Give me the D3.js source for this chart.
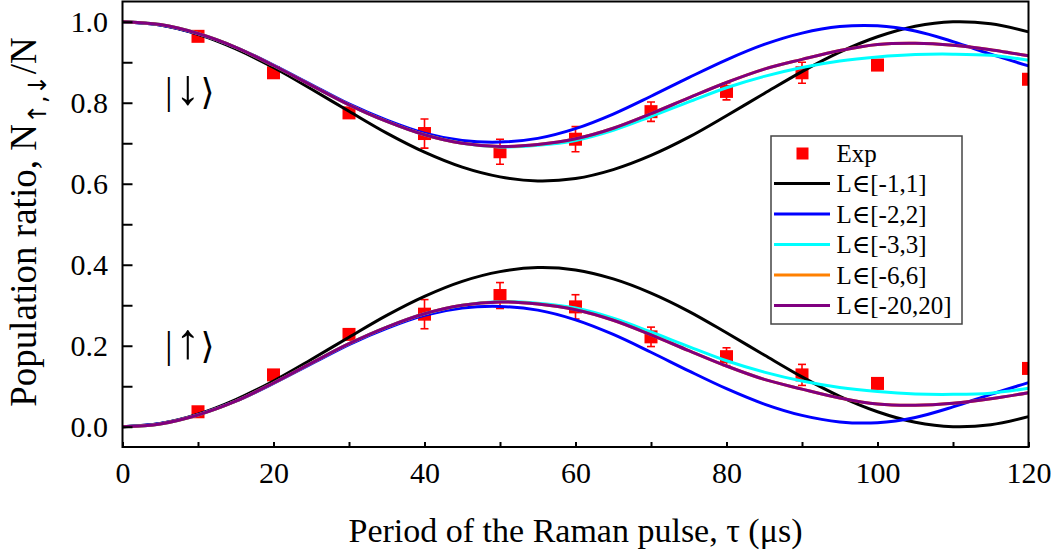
<!DOCTYPE html>
<html>
<head>
<meta charset="utf-8">
<script src="https://cdn.jsdelivr.net/npm/d3@7"></script>
<style>
  html, body { margin: 0; padding: 0; background: #fff; }
  svg text { font-family: "Liberation Serif", "DejaVu Serif", serif; fill: #000; }
</style>
</head>
<body>
<script>
// ---------- data ----------
const tau = [0,5,10,15,20,25,30,35,40,45,50,55,60,65,70,75,80,85,90,95,100,105,110,115,120];

// spin-down population (upper curves)
const downL1  = [1.000,0.992,0.969,0.933,0.887,0.834,0.779,0.725,0.678,0.641,0.617,0.607,0.613,0.635,0.670,0.715,0.768,0.823,0.877,0.925,0.963,0.989,1.000,0.995,0.975];
const downL2  = [1.000,0.992,0.970,0.937,0.893,0.845,0.797,0.757,0.725,0.707,0.703,0.712,0.736,0.772,0.816,0.862,0.906,0.944,0.972,0.988,0.990,0.977,0.951,0.920,0.891];
const downL3  = [1.000,0.993,0.971,0.937,0.892,0.843,0.795,0.754,0.721,0.700,0.691,0.695,0.707,0.732,0.766,0.802,0.837,0.865,0.887,0.903,0.913,0.919,0.920,0.917,0.905];
const downL6  = [1.000,0.993,0.971,0.937,0.892,0.843,0.795,0.754,0.721,0.700,0.692,0.697,0.711,0.737,0.773,0.812,0.850,0.883,0.907,0.929,0.944,0.947,0.942,0.931,0.916];
const downL20 = [1.000,0.993,0.971,0.937,0.892,0.843,0.795,0.754,0.721,0.700,0.692,0.697,0.711,0.737,0.773,0.812,0.850,0.883,0.907,0.929,0.944,0.947,0.942,0.931,0.916];

// spin-up population (lower curves)
const upL1  = [0.000,0.008,0.031,0.067,0.113,0.166,0.221,0.275,0.322,0.359,0.383,0.393,0.387,0.365,0.330,0.285,0.232,0.177,0.123,0.075,0.037,0.011,0.000,0.005,0.025];
const upL2  = [0.000,0.008,0.030,0.063,0.107,0.155,0.203,0.243,0.275,0.293,0.297,0.288,0.264,0.228,0.184,0.138,0.094,0.056,0.028,0.012,0.010,0.023,0.049,0.080,0.109];
const upL3  = [0.000,0.007,0.029,0.063,0.108,0.157,0.205,0.246,0.279,0.300,0.309,0.305,0.293,0.268,0.234,0.198,0.163,0.135,0.113,0.097,0.087,0.081,0.080,0.083,0.095];
const upL6  = [0.000,0.007,0.029,0.063,0.108,0.157,0.205,0.246,0.279,0.300,0.308,0.303,0.289,0.263,0.227,0.188,0.150,0.117,0.093,0.071,0.056,0.053,0.058,0.069,0.084];
const upL20 = [0.000,0.007,0.029,0.063,0.108,0.157,0.205,0.246,0.279,0.300,0.308,0.303,0.289,0.263,0.227,0.188,0.150,0.117,0.093,0.071,0.056,0.053,0.058,0.069,0.084];

// experiment
const expTau     = [10,20,30,40,50,60,70,80,90,100,120];
const expDown    = [0.964,0.874,0.775,0.724,0.679,0.710,0.778,0.828,0.874,0.893,0.858];
const expDownErr = [0,0,0,0.036,0.031,0.031,0.024,0.021,0.026,0,0];
const expUp      = [0.037,0.128,0.228,0.278,0.324,0.296,0.222,0.173,0.128,0.107,0.144];
const expUpErr   = [0,0,0,0.036,0.032,0.030,0.024,0.022,0.026,0,0];

const legendLabels = ["L\u2208[-1,1]","L\u2208[-2,2]","L\u2208[-3,3]","L\u2208[-6,6]","L\u2208[-20,20]"];
const seriesColors = ["#000000","#0000ff","#00ffff","#ff8000","#800080"];

const xTicks = [0,10,20,30,40,50,60,70,80,90,100,110,120];
const xTickLabels = ["0","","20","","40","","60","","80","","100","","120"];
const yTicks = [0,0.1,0.2,0.3,0.4,0.5,0.6,0.7,0.8,0.9,1.0];
const yTickLabels = ["0.0","","0.2","","0.4","","0.6","","0.8","","1.0"];

// ---------- chart ----------
const W = 1060, H = 555;
const svg = d3.select("body").append("svg").attr("width", W).attr("height", H);

const x = d3.scaleLinear().domain([0,120]).range([122.5,1028.5]);
const y = d3.scaleLinear().domain([-0.05,1.05]).range([447,1.5]);

svg.append("defs").append("clipPath").attr("id","clip")
  .append("rect").attr("x", x(0)).attr("y", y(1.05)).attr("width", x(120)-x(0)).attr("height", y(-0.05)-y(1.05));

const plot = svg.append("g").attr("clip-path","url(#clip)");

// experimental points (drawn under curves)
const expSets = [
  {v: expDown, e: expDownErr},
  {v: expUp, e: expUpErr}
];
expSets.forEach(s => {
  const pts = expTau.map((t,i)=>({t, v:s.v[i], e:s.e[i]}));
  const eb = plot.append("g").attr("stroke","#ff0000").attr("stroke-width",1.6);
  pts.filter(d=>d.e>0).forEach(d=>{
    eb.append("line").attr("x1",x(d.t)).attr("x2",x(d.t)).attr("y1",y(d.v-d.e)).attr("y2",y(d.v+d.e));
    eb.append("line").attr("x1",x(d.t)-4).attr("x2",x(d.t)+4).attr("y1",y(d.v-d.e)).attr("y2",y(d.v-d.e));
    eb.append("line").attr("x1",x(d.t)-4).attr("x2",x(d.t)+4).attr("y1",y(d.v+d.e)).attr("y2",y(d.v+d.e));
  });
  plot.append("g").selectAll("rect").data(pts).join("rect")
    .attr("x", d=>x(d.t)-6.5).attr("y", d=>y(d.v)-6.5)
    .attr("width",13).attr("height",13).attr("fill","#ff0000");
});

// curves
const downSeries = [downL1, downL2, downL3, downL6, downL20];
const upSeries = [upL1, upL2, upL3, upL6, upL20];
const line = d3.line().x((d,i)=>x(tau[i])).y(d=>y(d)).curve(d3.curveCatmullRom.alpha(0.5));
[0,1,2,3,4].forEach(k=>{
  [downSeries[k], upSeries[k]].forEach(arr=>{
    plot.append("path").datum(arr).attr("d", line)
      .attr("fill","none").attr("stroke", seriesColors[k]).attr("stroke-width",3)
      .attr("stroke-linejoin","round");
  });
});

// axes
const xAxis = d3.axisBottom(x).tickValues(xTicks).tickSize(-5).tickPadding(15)
  .tickFormat((d,i)=>xTickLabels[i]);
const gx = svg.append("g").attr("transform",`translate(0,${y(-0.05)})`).call(xAxis);
gx.select(".domain").remove();
gx.selectAll(".tick line").attr("stroke","#000").attr("stroke-width",2);
gx.selectAll("text").attr("font-size",30).attr("font-family","Liberation Serif");

const yAxis = d3.axisLeft(y).tickValues(yTicks).tickSize(-10).tickPadding(14.5)
  .tickFormat((d,i)=>yTickLabels[i]);
const gy = svg.append("g").attr("transform",`translate(${x(0)},0)`).call(yAxis);
gy.select(".domain").remove();
gy.selectAll(".tick line").attr("stroke","#000").attr("stroke-width",2);
gy.selectAll("text").attr("font-size",30).attr("font-family","Liberation Serif");

// frame
svg.append("rect").attr("x",x(0)).attr("y",y(1.05)).attr("width",x(120)-x(0)).attr("height",y(-0.05)-y(1.05))
  .attr("fill","none").attr("stroke","#000").attr("stroke-width",2);

// labels
svg.append("text").attr("x",(x(0)+x(120))/2).attr("y",542).attr("text-anchor","middle")
  .attr("font-size",34).text("Period of the Raman pulse, \u03c4 (\u03bcs)");

const yl = svg.append("text").attr("transform","translate(36,222) rotate(-90)").attr("text-anchor","middle").attr("font-size",37);
yl.append("tspan").text("Population ratio, N");
yl.append("tspan").attr("font-size",25).attr("dy",10).attr("font-family","DejaVu Sans").text("\u2191,\u2193");
yl.append("tspan").attr("dy",-10).text("/N");

// state annotations
function ket(yBase, arrow) {
  const t = svg.append("text").attr("x",165).attr("y",yBase).attr("font-size",38);
  t.append("tspan").text("|");
  t.append("tspan").attr("font-family","Liberation Serif").attr("font-size",50).attr("dx",3).text(arrow);
  t.append("tspan").attr("font-family","DejaVu Sans").attr("font-size",36).attr("dx",0).text("\u27e9");
}
ket(104, "\u2193");
ket(358, "\u2191");

// legend
const lg = svg.append("g");
lg.append("rect").attr("x",771).attr("y",136).attr("width",191).attr("height",188)
  .attr("fill","#fff").attr("stroke","#444").attr("stroke-width",1.5);
lg.append("rect").attr("x",802.5-6).attr("y",153.5-6).attr("width",12).attr("height",12).attr("fill","#ff0000");
lg.append("text").attr("x",836.5).attr("y",153.5+8.5).attr("font-size",25).text("Exp");
legendLabels.forEach((lab,i)=>{
  const cy = 183.5 + i*30.5;
  lg.append("line").attr("x1",774).attr("x2",830).attr("y1",cy).attr("y2",cy)
    .attr("stroke",seriesColors[i]).attr("stroke-width",3.2);
  lg.append("text").attr("x",836.5).attr("y",cy+8.5).attr("font-size",25).text(lab);
});
</script>
</body>
</html>
